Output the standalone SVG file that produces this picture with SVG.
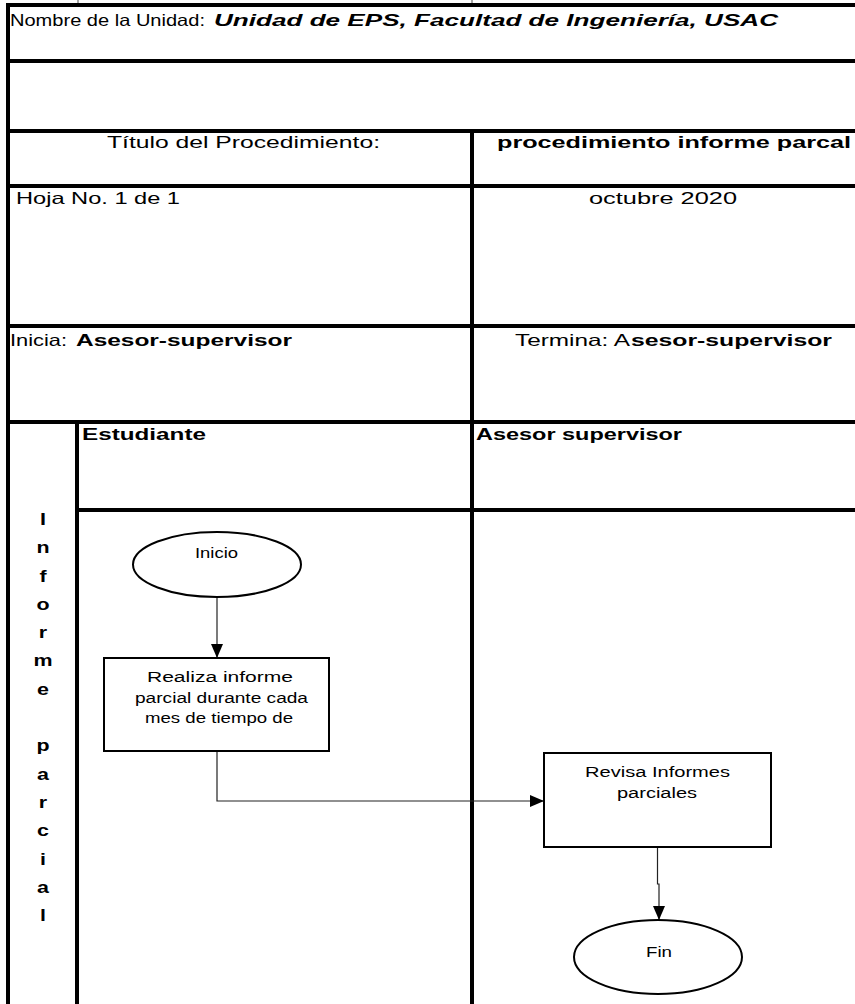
<svg xmlns="http://www.w3.org/2000/svg" width="855" height="1004" viewBox="0 0 855 1004">
  <style>
    .grid { stroke: #000; stroke-width: 4; fill: none; }
    .tick { stroke: #888; stroke-width: 1.5; }
    .t { font-family: "Liberation Sans", Arial, sans-serif; font-size: 16.5px; fill: #000; }
    .b { font-weight: bold; }
    .bi { font-weight: bold; font-style: italic; }
    .lane { font-family: "Liberation Sans", Arial, sans-serif; font-size: 16.5px; font-weight: bold; fill: #000; text-anchor: middle; }
    .shape { fill: #fff; stroke: #000; stroke-width: 2; }
    .nt { font-family: "Liberation Sans", Arial, sans-serif; font-size: 14px; fill: #000; }
    .conn { fill: none; stroke: #222; stroke-width: 1.2; }
  </style>
  <defs>
    <marker id="arrow" markerUnits="userSpaceOnUse" markerWidth="14" markerHeight="12" refX="14" refY="6" orient="auto">
      <path d="M0,0 L14,6 L0,12 Z" fill="#000"/>
    </marker>
  </defs>

  <rect width="855" height="1004" fill="#fff"/>

  <!-- form grid -->
  <g id="grid">
    <line class="tick" x1="78" y1="0" x2="78" y2="4"/>
    <line class="tick" x1="472" y1="0" x2="472" y2="4"/>
    <line class="grid" x1="6" y1="5" x2="855" y2="5"/>
    <line class="grid" x1="8" y1="3" x2="8" y2="1004"/>
    <line class="grid" x1="8" y1="61" x2="855" y2="61"/>
    <line class="grid" x1="8" y1="131" x2="855" y2="131"/>
    <line class="grid" x1="8" y1="186" x2="855" y2="186"/>
    <line class="grid" x1="8" y1="326" x2="855" y2="326"/>
    <line class="grid" x1="8" y1="422" x2="855" y2="422"/>
    <line class="grid" x1="77" y1="510" x2="855" y2="510"/>
    <line class="grid" x1="472" y1="131" x2="472" y2="1004"/>
    <line class="grid" x1="77" y1="422" x2="77" y2="1004"/>
  </g>

  <!-- header texts -->
  <g id="header">
    <text class="t" x="10" y="26" textLength="195" lengthAdjust="spacingAndGlyphs">Nombre de la Unidad:</text>
    <text class="t bi" x="214" y="26" textLength="564" lengthAdjust="spacingAndGlyphs">Unidad de EPS, Facultad de Ingeniería, USAC</text>
    <text class="t" x="107" y="148" textLength="273" lengthAdjust="spacingAndGlyphs">Título del Procedimiento:</text>
    <text class="t b" x="497" y="148" textLength="354" lengthAdjust="spacingAndGlyphs">procedimiento informe parcal</text>
    <text class="t" x="16" y="204" textLength="164" lengthAdjust="spacingAndGlyphs">Hoja No. 1 de 1</text>
    <text class="t" x="589" y="204" textLength="148" lengthAdjust="spacingAndGlyphs">octubre 2020</text>
    <text class="t" x="10" y="346" textLength="57" lengthAdjust="spacingAndGlyphs">Inicia:</text>
    <text class="t b" x="76" y="346" textLength="216" lengthAdjust="spacingAndGlyphs">Asesor-supervisor</text>
    <text class="t" x="515" y="346" textLength="115" lengthAdjust="spacingAndGlyphs">Termina: A</text>
    <text class="t b" x="631" y="346" textLength="201" lengthAdjust="spacingAndGlyphs">sesor-supervisor</text>
  </g>

  <!-- swimlane headers -->
  <g id="lane-estudiante">
    <text class="t b" x="82" y="440" textLength="124" lengthAdjust="spacingAndGlyphs">Estudiante</text>
  </g>
  <g id="lane-asesor">
    <text class="t b" x="476" y="440" textLength="206" lengthAdjust="spacingAndGlyphs">Asesor supervisor</text>
  </g>

  <!-- process name written vertically -->
  <g id="process-label" transform="translate(43,0) scale(1.3,1)">
    <text class="lane" x="0" y="525">I</text>
    <text class="lane" x="0" y="553.3">n</text>
    <text class="lane" x="0" y="581.6">f</text>
    <text class="lane" x="0" y="609.9">o</text>
    <text class="lane" x="0" y="638.2">r</text>
    <text class="lane" x="0" y="666.5">m</text>
    <text class="lane" x="0" y="694.8">e</text>
    <text class="lane" x="0" y="751.4">p</text>
    <text class="lane" x="0" y="779.7">a</text>
    <text class="lane" x="0" y="808">r</text>
    <text class="lane" x="0" y="836.3">c</text>
    <text class="lane" x="0" y="864.6">i</text>
    <text class="lane" x="0" y="892.9">a</text>
    <text class="lane" x="0" y="921.2">l</text>
  </g>

  <!-- connectors -->
  <g id="connectors">
    <path class="conn" d="M217,597 V658" marker-end="url(#arrow)"/>
    <path class="conn" d="M217,751 V801 H544" marker-end="url(#arrow)"/>
    <path class="conn" d="M657.5,848 V884 H659 V920" marker-end="url(#arrow)"/>
  </g>

  <!-- flow nodes -->
  <g id="inicio">
    <ellipse class="shape" cx="217" cy="564.5" rx="84" ry="32.5"/>
    <text class="nt" x="195" y="558" textLength="43" lengthAdjust="spacingAndGlyphs">Inicio</text>
  </g>
  <g id="realiza">
    <rect class="shape" x="104" y="658" width="225" height="93"/>
    <text class="nt" x="147" y="682" textLength="146" lengthAdjust="spacingAndGlyphs">Realiza informe</text>
    <text class="nt" x="135" y="703" textLength="173" lengthAdjust="spacingAndGlyphs">parcial durante cada</text>
    <text class="nt" x="145" y="723" textLength="148" lengthAdjust="spacingAndGlyphs">mes de tiempo de</text>
  </g>
  <g id="revisa">
    <rect class="shape" x="544" y="753" width="227" height="94"/>
    <text class="nt" x="585" y="777" textLength="145" lengthAdjust="spacingAndGlyphs">Revisa Informes</text>
    <text class="nt" x="617" y="798" textLength="80" lengthAdjust="spacingAndGlyphs">parciales</text>
  </g>
  <g id="fin">
    <ellipse class="shape" cx="658" cy="957" rx="84" ry="37"/>
    <text class="nt" x="646" y="957" textLength="26" lengthAdjust="spacingAndGlyphs">Fin</text>
  </g>
</svg>
